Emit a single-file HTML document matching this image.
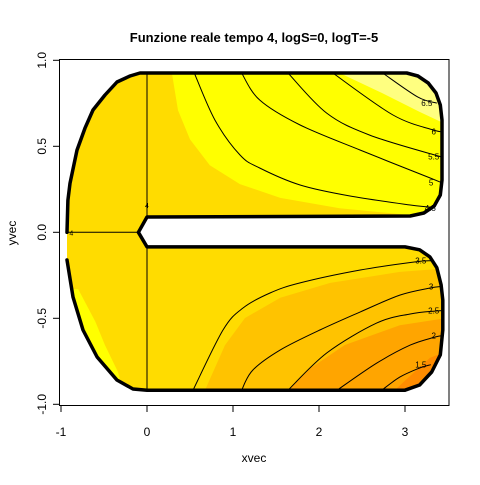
<!DOCTYPE html>
<html><head><meta charset="utf-8"><style>
html,body{margin:0;padding:0;background:#fff}
svg text{font-family:"Liberation Sans",sans-serif}
</style></head><body>
<svg id="chart" width="480" height="480" viewBox="0 0 480 480" xmlns="http://www.w3.org/2000/svg">
<text x="254" y="42" text-anchor="middle" font-size="13" font-weight="bold">Funzione reale tempo 4, logS=0, logT=-5</text>
<text x="254" y="462" text-anchor="middle" font-size="12">xvec</text>
<text x="16" y="233" text-anchor="middle" font-size="12" transform="rotate(-90 16 233)">yvec</text>
<g id="plot"></g>
</svg>
<script>
// ---- data ----
const xTicks = [-1, 0, 1, 2, 3];
const yTicks = [-1.0, -0.5, 0.0, 0.5, 1.0];
const yTickLabels = ["-1.0", "-0.5", "0.0", "0.5", "1.0"];
const levelLabels = ["4.5", "5", "5.5", "6", "6.5", "3.5", "3", "2.5", "2", "1.5"];
const c45x = [0.55,0.79,1.08,1.31,1.78,2.36,3.06,3.41], c45y = [0.926,0.653,0.45,0.374,0.275,0.211,0.159,0.141];
const c5x = [1.10,1.31,1.78,2.48,3.29,3.42], c5y = [0.926,0.769,0.624,0.478,0.316,0.29];
const c55x = [1.64,2.09,2.59,3.35,3.45], c55y = [0.926,0.693,0.565,0.449,0.44];
const c6x = [2.16,2.86,3.33,3.45], c6y = [0.926,0.682,0.595,0.585];
const c65x = [2.74,3.15,3.37], c65y = [0.926,0.786,0.751];
const c35x = [0.535,0.884,1.116,1.43,1.78,2.48,3.12,3.3], c35y = [-0.918,-0.568,-0.44,-0.353,-0.294,-0.219,-0.172,-0.165];
const c3x = [1.10,1.23,1.55,2.01,2.48,2.94,3.29,3.42], c3y = [-0.918,-0.801,-0.684,-0.568,-0.463,-0.365,-0.324,-0.315];
const c25x = [1.64,2.09,2.67,3.06,3.35,3.45], c25y = [-0.918,-0.702,-0.528,-0.475,-0.458,-0.455];
const c2x = [2.21,2.67,3.06,3.35,3.45], c2y = [-0.918,-0.761,-0.656,-0.609,-0.6];
const c15x = [2.73,2.94,3.17,3.3], c15y = [-0.918,-0.842,-0.789,-0.77];
// colour-band boundaries
const bGoldUpX = [0.29,0.36,0.50,0.73,1.08,1.55,2.24,3.06,3.6], bGoldUpY = [0.926,0.71,0.54,0.39,0.28,0.20,0.14,0.10,0.095];
const bLightX = [2.24,2.71,3.17,3.6], bLightY = [0.926,0.815,0.70,0.6];
const bOr1X = [0.674,0.907,1.14,1.55,2.13,2.94,3.6], bOr1Y = [-0.918,-0.656,-0.498,-0.381,-0.294,-0.23,-0.205];
const bOr2X = [1.64,1.90,2.30,2.94,3.6], bOr2Y = [-0.918,-0.79,-0.655,-0.54,-0.49];
const bOr3X = [2.88,3.06,3.29,3.6], bOr3Y = [-0.918,-0.835,-0.73,-0.67];
const sliverX = [-0.895,-0.80,-0.60,-0.49,-0.34,-0.31,-0.55,-1.0], sliverY = [-0.33,-0.33,-0.52,-0.655,-0.81,-0.86,-0.86,-0.5];
// domain outline
const outX = [-0.93,-0.86,-0.744,-0.58,-0.35,-0.163,0, 3.0,3.17,3.31,3.41,3.44,3.44,3.42,3.37,3.29,3.17,3.0, 0,-0.10,0, 3.06,3.22,3.34,3.41,3.43,3.43,3.41,3.36,3.27,3.15,3.02, 0,-0.081,-0.198,-0.349,-0.488,-0.628,-0.721,-0.814,-0.895,-0.92,-0.93];
const outY = [-0.161,-0.376,-0.568,-0.725,-0.859,-0.911,-0.918, -0.918,-0.888,-0.812,-0.713,-0.568,-0.394,-0.305,-0.206,-0.143,-0.102,-0.085, -0.085,0,0.089, 0.095,0.112,0.153,0.217,0.304,0.653,0.740,0.810,0.868,0.909,0.926, 0.926,0.926,0.909,0.874,0.798,0.711,0.606,0.478,0.285,0.186,0];

// ---- axes ----
const sx = v => 147 + 86 * v;
const sy = v => 232.3 - 172 * v;
const NS = "http://www.w3.org/2000/svg";
const plot = document.getElementById("plot");
function mk(tag, attrs, parent) {
  const e = document.createElementNS(NS, tag);
  for (const k in attrs) e.setAttribute(k, attrs[k]);
  (parent || plot).appendChild(e);
  return e;
}
function pts(xs, ys) { return xs.map((x, i) => sx(x).toFixed(1) + "," + sy(ys[i]).toFixed(1)).join(" "); }
function smooth(xs, ys) {
  const P = xs.map((x, i) => [sx(x), sy(ys[i])]);
  let d = "M" + P[0][0].toFixed(1) + "," + P[0][1].toFixed(1);
  for (let i = 0; i < P.length - 1; i++) {
    const p0 = P[Math.max(0, i - 1)], p1 = P[i], p2 = P[i + 1], p3 = P[Math.min(P.length - 1, i + 2)];
    const c1 = [p1[0] + (p2[0] - p0[0]) / 6, p1[1] + (p2[1] - p0[1]) / 6];
    const c2 = [p2[0] - (p3[0] - p1[0]) / 6, p2[1] - (p3[1] - p1[1]) / 6];
    d += "C" + c1.map(v => v.toFixed(1)).join(",") + " " + c2.map(v => v.toFixed(1)).join(",") + " " + p2[0].toFixed(1) + "," + p2[1].toFixed(1);
  }
  return d;
}

const defs = mk("defs", {});
const cp = mk("clipPath", {id: "dom"}, defs);
mk("polygon", {points: pts(outX, outY)}, cp);
const g = mk("g", {"clip-path": "url(#dom)"});



function band(xs, ys, closeX, closeY, color, name) {
  const p = mk("polygon", {points: pts(xs.concat(closeX), ys.concat(closeY)), fill: color}, g);
  
  
}
const base = mk("rect", {x: 50, y: 50, width: 400, height: 360, fill: "#FFDC00"}, g);


band(bGoldUpX, bGoldUpY, [3.6], [0.95], "#FFFF00", "band-yellow");
band(bLightX, bLightY, [3.6], [0.95], "#FFFF80", "band-light-yellow");
band(bOr1X, bOr1Y, [3.6], [-0.95], "#FFC300", "band-orange-1");
band(bOr2X, bOr2Y, [3.6], [-0.95], "#FFA500", "band-orange-2");
band(bOr3X, bOr3Y, [3.6], [-0.95], "#FF8C00", "band-orange-3");
band(sliverX, sliverY, [], [], "#FFFF00", "band-yellow-left");

// contour lines
const lines = [[c45x,c45y],[c5x,c5y],[c55x,c55y],[c6x,c6y],[c65x,c65y],[c35x,c35y],[c3x,c3y],[c25x,c25y],[c2x,c2y],[c15x,c15y]];
lines.forEach((ln, i) => {
  const pl = mk("path", {d: smooth(ln[0], ln[1]), fill: "none", stroke: "#000", "stroke-width": 1}, g);
  
  
  const n = ln[0].length - 1;
  const t = mk("text", {x: sx(ln[0][n]) - 10, y: sy(ln[1][n]) + 3, "font-size": 8, "text-anchor": "middle"});
  t.textContent = levelLabels[i];
  
  
});
const c4 = mk("path", {d: `M${sx(0)},${sy(0.926)}V${sy(0.089)}M${sx(0)},${sy(-0.085)}V${sy(-0.918)}M${sx(-0.94)},${sy(0)}H${sx(-0.1)}`, stroke: "#000", "stroke-width": 1, fill: "none"}, g);


[[0, 0.16], [-0.88, 0]].forEach(p => {
  const t = mk("text", {x: sx(p[0]), y: sy(p[1]) + 3, "font-size": 7, "text-anchor": "middle"});
  t.textContent = "4";
  
  
});

// outline
const ol = mk("polyline", {points: pts(outX, outY), fill: "none", stroke: "#000", "stroke-width": 3.5, "stroke-linejoin": "round", "stroke-linecap": "round"});



// frame + ticks
const fr = mk("rect", {x: 59.5, y: 59.5, width: 389.5, height: 346, fill: "none", stroke: "#000", "stroke-width": 1});


xTicks.forEach(v => {
  const l = mk("line", {x1: sx(v), x2: sx(v), y1: 405.5, y2: 412, stroke: "#000"});
  
  
  const t = mk("text", {x: sx(v), y: 436, "font-size": 12, "text-anchor": "middle"});
  t.textContent = String(v);
  
  
});
yTicks.forEach((v, i) => {
  const l = mk("line", {x1: 53, x2: 59.5, y1: sy(v), y2: sy(v), stroke: "#000"});
  
  
  const t = mk("text", {x: 46, y: sy(v), "font-size": 12, "text-anchor": "middle", transform: `rotate(-90 46 ${sy(v)})`});
  t.textContent = yTickLabels[i];
  
  
});
</script>
</body></html>
